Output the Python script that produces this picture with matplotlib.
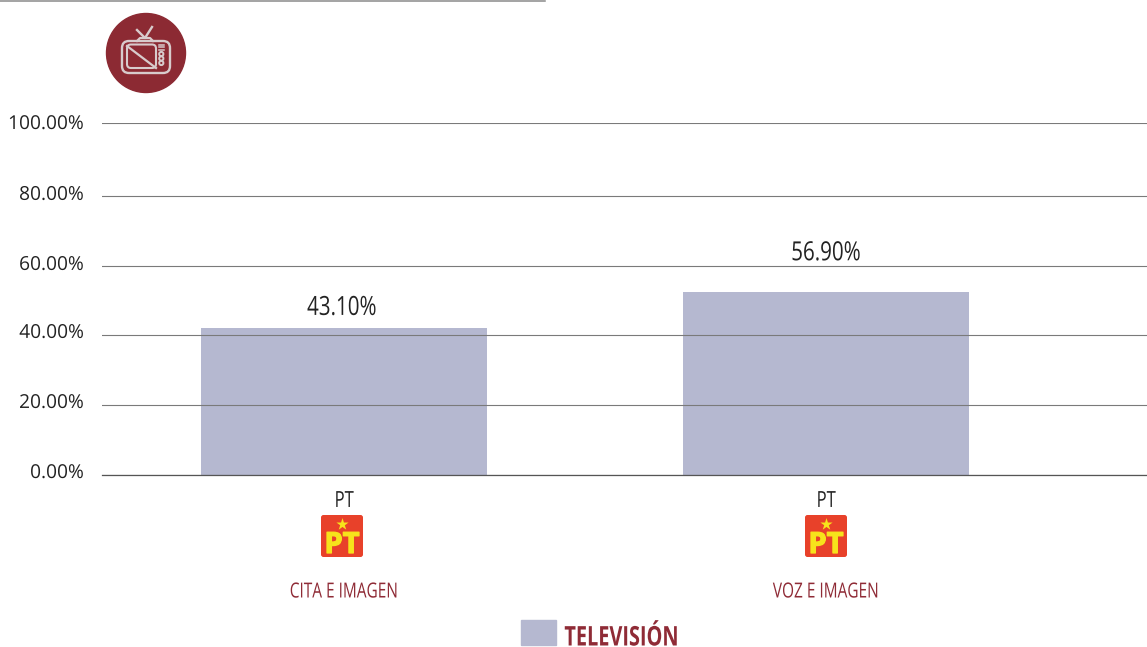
import matplotlib
matplotlib.use("Agg")
import matplotlib.pyplot as plt
from matplotlib.patches import Circle, FancyBboxPatch, Patch
from matplotlib.patheffects import AbstractPathEffect, Stroke, Normal
from matplotlib.transforms import Affine2D

W, H = 1147, 647
categories = ["CITA E IMAGEN", "VOZ E IMAGEN"]
party = ["PT", "PT"]
bar_heights = [41.8, 52.0]
bar_labels = ["43.10%", "56.90%"]
tick_positions = [0, 19.9, 39.8, 59.4, 79.3, 100]
tick_labels = ["0.00%", "20.00%", "40.00%", "60.00%", "80.00%", "100.00%"]
legend_name = "TELEVISIÓN"

FONT = "Open Sans"
MAROON = "#8f2b36"
BAR = "#b5b8d0"
GRID = "#7a7a7a"
INK = "#222222"
YELLOW = "#f7e31b"


class Condense(AbstractPathEffect):
    """Draw the text narrower, keeping real text objects."""

    def __init__(self, sx, anchor="center", dy=0):
        super().__init__()
        self.sx, self.anchor, self.dy = sx, anchor, dy

    def draw_path(self, renderer, gc, tpath, affine, rgbFace=None):
        ext = tpath.get_extents()
        pivot = (ext.x0 + ext.x1) / 2 if self.anchor == "center" else ext.x0
        local = Affine2D().translate(-pivot, 0).scale(self.sx, 1).translate(pivot, 0)
        renderer.draw_path(gc, tpath, local + affine + Affine2D().translate(0, self.dy), rgbFace)


fig = plt.figure(figsize=(W / 100, H / 100), dpi=100, facecolor="white")
ax = fig.add_axes([102 / W, 1 - 475 / H, (W - 102) / W, (475 - 123) / H])
ax.set_ylim(0, 100)
ax.set_xlim(-0.502, 1.666)
ax.set_facecolor("none")
xs = list(range(len(categories)))
ax.bar(xs, bar_heights, width=0.593, color=BAR, zorder=1)
ax.set_yticks(tick_positions, tick_labels, family=FONT, fontsize=13.8, color=INK)
ax.set_xticks(xs, party, family=FONT, fontsize=16, color=INK)
ax.tick_params(axis="y", length=0, pad=13)
ax.tick_params(axis="x", length=0, pad=11.5)
for t in ax.get_xticklabels():
    t.set_path_effects([Condense(0.75)])
# the reference's y labels sit a few pixels above their gridlines
for t, lift in zip(ax.get_yticklabels(), [4, 4, 4, 3, 3, 1]):
    t.set_path_effects([Condense(1.0, dy=lift)])
ax.grid(axis="y", color=GRID, lw=0.8, zorder=2)
ax.set_axisbelow(False)
for side in ("top", "right", "left"):
    ax.spines[side].set_visible(False)
ax.spines["bottom"].set_color("#555555")
ax.spines["bottom"].set_linewidth(0.9)
label_offsets = [5, 18.5]
for x, h, lab, off in zip(xs, bar_heights, bar_labels, label_offsets):
    t = ax.annotate(lab, (x, h), xytext=(-1.5 if x == 0 else 0, off), textcoords="offset points", ha="center",
                    va="bottom", family=FONT, fontsize=19, color=INK)
    t.set_path_effects([Condense(0.78)])

ov = fig.add_axes([0, 0, 1, 1], zorder=5)
ov.set_xlim(0, W)
ov.set_ylim(H, 0)
ov.axis("off")
ov.plot([0, 545], [0.5, 0.5], color="#8a8a8a", lw=1.1)

# television badge
ov.add_patch(Circle((146, 53), 39.5, color="#8c2a33"))
ic = "#d8cbcc"
ov.add_patch(FancyBboxPatch((122, 41), 48, 32, boxstyle="round,pad=0,rounding_size=7", fc="none", ec=ic, lw=1.7))
ov.add_patch(FancyBboxPatch((127, 44.5), 29, 23.5, boxstyle="round,pad=0,rounding_size=4", fc="none", ec=ic, lw=1.5))
ov.plot([127, 156], [46, 68], color=ic, lw=1.6)
ov.plot([137, 145, 152], [30, 38, 27], color=ic, lw=1.7)
ov.plot([137, 140, 150, 153], [41, 38, 38, 41], color=ic, lw=1.6)
for yy in (44.5, 47, 49.5):
    ov.plot([158.5, 164], [yy, yy], color=ic, lw=1.1)
for yy in (54, 58.5, 63):
    ov.add_patch(Circle((161.3, yy), 2.1, fc="none", ec=ic, lw=1.4))

# party logos and category names
for cx, tx, cat in zip((342, 826), (344, 826), categories):
    ov.add_patch(FancyBboxPatch((cx - 21, 515), 42, 42, boxstyle="round,pad=0,rounding_size=2.5", fc="#e8412a", ec="none"))
    ov.scatter([cx], [524], marker="*", s=85, color=YELLOW, lw=0)
    pt = ov.text(cx, 553, "PT", ha="center", va="baseline", family=FONT, weight="bold",
                 fontsize=21, color=YELLOW)
    pt.set_path_effects([Stroke(linewidth=0.9, foreground=YELLOW), Normal()])
    lab = ov.text(tx, 592, cat, ha="center", va="center", family=FONT, fontsize=15, color=MAROON)
    lab.set_path_effects([Condense(0.74)])

leg = fig.legend(handles=[Patch(color=BAR, label=legend_name)], loc="lower left",
                 bbox_to_anchor=(521 / W, -0.5 / H), frameon=False, borderpad=0, borderaxespad=0,
                 handlelength=35 / 27, handleheight=29 / 27, handletextpad=0.3,
                 prop={"family": FONT, "weight": "bold", "size": 19.5})
leg.get_texts()[0].set_color(MAROON)
leg.get_texts()[0].set_path_effects([Condense(0.735, anchor="left", dy=-4)])
fig.savefig("out.png", dpi=100)
